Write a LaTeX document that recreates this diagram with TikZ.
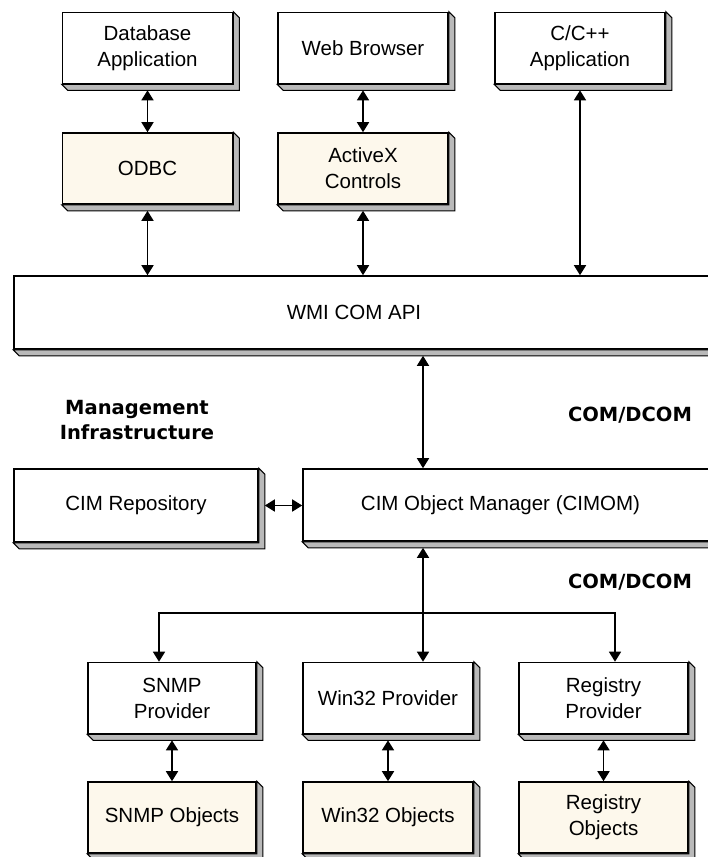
\documentclass[tikz,border=0pt]{standalone}
\usepackage{fontspec}
\setmainfont{Liberation Sans}
\newfontfamily\headfont{DejaVu Sans}
\usetikzlibrary{arrows.meta}
\usepackage{xcolor}
\definecolor{objcream}{RGB}{253,248,236}
\definecolor{bevelgray}{RGB}{185,185,185}

\begin{document}
\begin{tikzpicture}[x=1pt, y=-1pt,
		font=\fontsize{20.5}{26}\selectfont,
		link/.style={line width=1.6pt},
		twoway/.style={link, {Triangle[width=12pt,length=10pt]}-{Triangle[width=12pt,length=10pt]}},
		oneway/.style={link, -{Triangle[width=12pt,length=10pt]}}]
		\tikzstyle{box}=[draw, line width=1.6pt, fill=white, inner sep=0pt, align=center, minimum width=170pt, minimum height=71pt]
		\tikzstyle{objbox}=[box, fill=objcream]
		\tikzstyle{headlabel}=[font=\headfont\bfseries\fontsize{19.5}{25}\selectfont, align=center]
		\tikzstyle{bevel}=[draw, line width=1pt, fill=bevelgray]
		\useasboundingbox (0,0) rectangle (708,857);
		\clip (0,0) rectangle (708,857);
		% client side
		\node[box] (dbapp) at (147.5,48) {Database\\Application};
		\node[box] (web) at (363,48) {Web Browser};
		\node[box] (capp) at (580,48) {C/C++\\Application};
		\node[objbox] (odbc) at (147.5,168.5) {ODBC};
		\node[objbox] (activex) at (363,168.5) {ActiveX\\Controls};
		\node[box, minimum width=726pt, minimum height=73pt,
			label={[xshift=-23pt]center:WMI COM API}] (wmi) at (377,312.5) {};
		% management infrastructure
		\node[headlabel] (mgmt) at (137,420) {Management\\Infrastructure};
		\node[headlabel] (comtop) at (630,415) {COM/DCOM};
		\node[headlabel] (combot) at (630,582) {COM/DCOM};
		\node[box, minimum width=244pt, minimum height=73pt] (repo) at (136,505.5) {CIM Repository};
		\node[box, minimum width=437pt, minimum height=72pt,
			label={[xshift=-21pt]center:CIM Object Manager (CIMOM)}] (cimom) at (521.5,505) {};
		% providers
		\node[box, minimum width=168pt] (snmp) at (172,698) {SNMP\\Provider};
		\node[box] (win32) at (388,698) {Win32 Provider};
		\node[box, minimum width=169pt] (registry) at (603.5,698) {Registry\\Provider};
		\node[objbox, minimum width=168pt] (snmpobj) at (172,817.5) {SNMP Objects};
		\node[objbox] (win32obj) at (388,817.5) {Win32 Objects};
		\node[objbox, minimum width=169pt] (regobj) at (603.5,817.5) {Registry\\Objects};
		\foreach \b in {dbapp,web,capp,odbc,activex,wmi,repo,cimom,snmp,win32,registry,snmpobj,win32obj,regobj}
			\draw[bevel] (\b.south west) -- ++(6,6) -- ([shift={(6,6)}]\b.south east)
				-- ([shift={(6,6)}]\b.north east) -- (\b.north east) -- (\b.south east) -- cycle;
		\coordinate (trunk) at (423,613);
		\coordinate (busl) at (159,613);
		\coordinate (busr) at (615,613);
		% connectors
		\draw[twoway] ([yshift=-6pt]dbapp.south) -- (odbc.north);
		\draw[twoway] ([yshift=-6pt]web.south) -- (activex.north);
		\draw[twoway] ([yshift=-6pt]odbc.south) -- (odbc.south |- wmi.north);
		\draw[twoway] ([yshift=-6pt]activex.south) -- (activex.south |- wmi.north);
		\draw[twoway] ([yshift=-6pt]capp.south) -- (capp.south |- wmi.north);
		\draw[twoway] ([yshift=-6pt]wmi.south -| trunk) -- (cimom.north -| trunk);
		\draw[twoway] ([xshift=6pt]repo.east) -- (cimom.west |- repo.east);
		\draw[twoway] ([yshift=-6pt]cimom.south -| trunk) -- (win32.north -| trunk);
		\draw[oneway] (trunk) -| (snmp.north -| busl);
		\draw[oneway] (trunk) -| (registry.north -| busr);
		\draw[twoway] ([yshift=-6pt]snmp.south) -- (snmpobj.north);
		\draw[twoway] ([yshift=-6pt]win32.south) -- (win32obj.north);
		\draw[twoway] ([yshift=-6pt]registry.south) -- (regobj.north);
	\end{tikzpicture}
\end{document}
